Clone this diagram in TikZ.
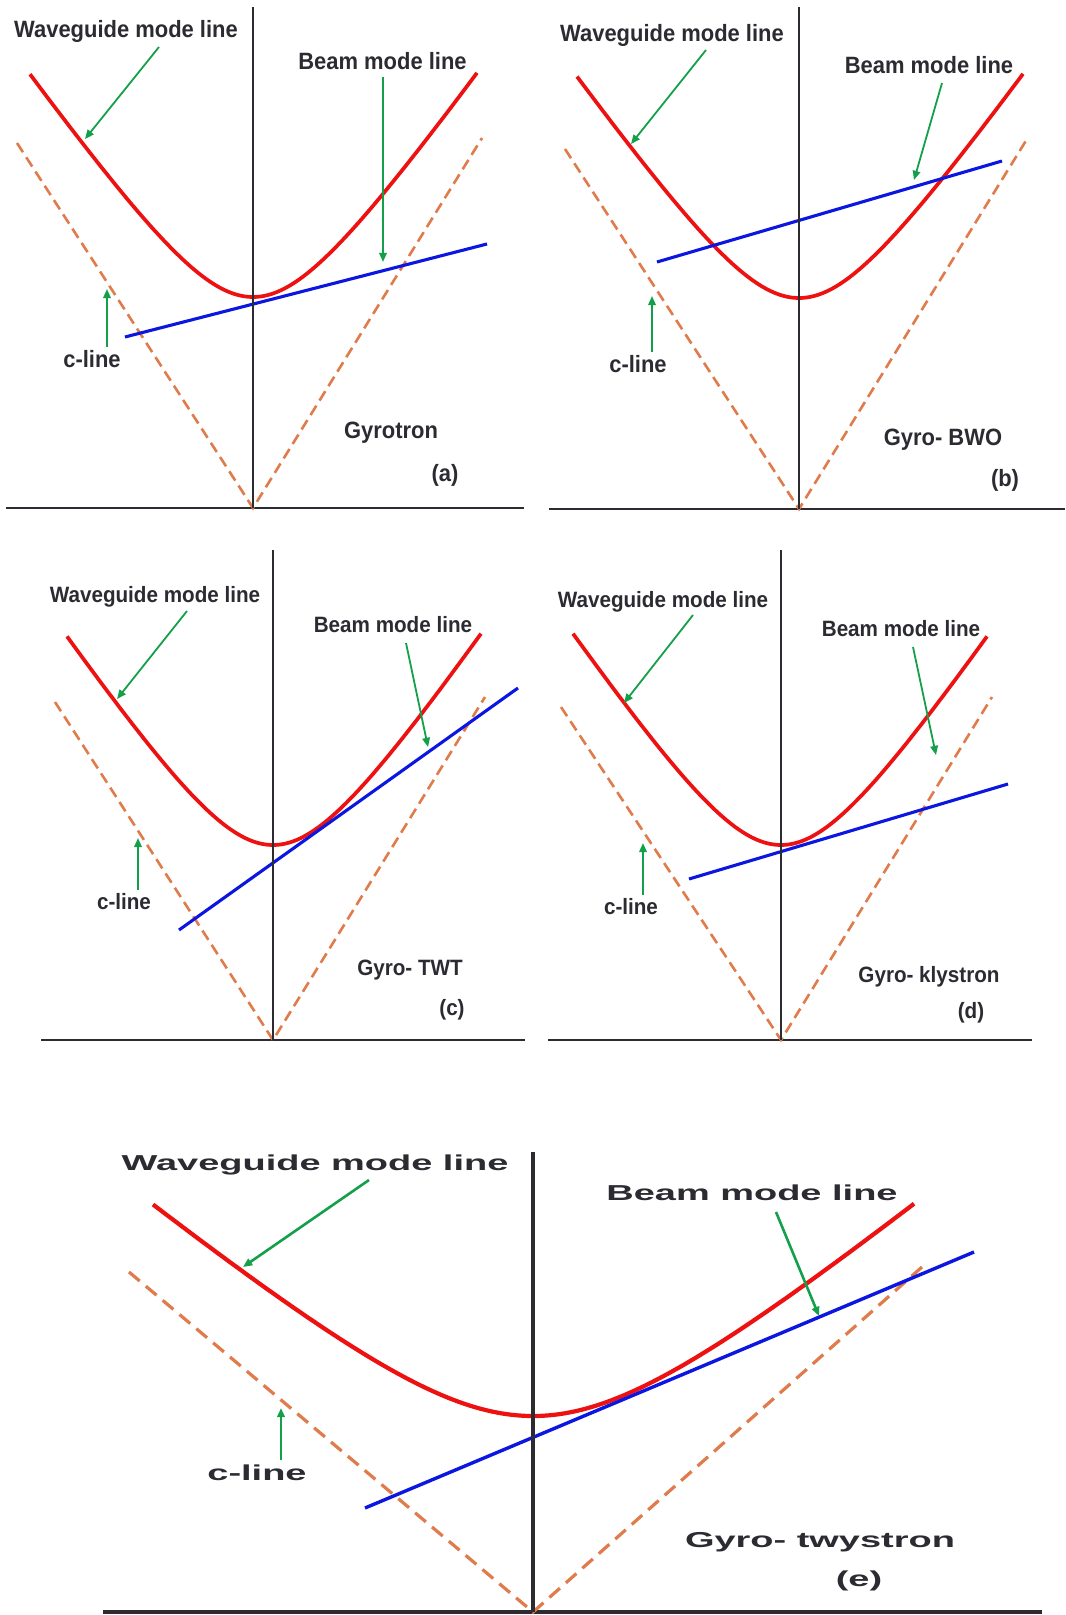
\documentclass[tikz,border=0pt]{standalone}
\usepackage{fontspec}
\setmainfont{Liberation Sans}
\usetikzlibrary{arrows.meta}
\definecolor{wgred}{HTML}{EE1111}
\definecolor{beamblue}{HTML}{0B16E0}
\definecolor{clight}{HTML}{E07B4C}
\definecolor{pgreen}{HTML}{14A04A}
\definecolor{ink}{HTML}{2B2B31}

\begin{document}
\begin{tikzpicture}[x=0.5pt, y=-0.5pt, >={Triangle[length=4.6pt,width=3.8pt]},
	axis/.style={draw=ink, line width=1.4pt},
	wg/.style={draw=wgred, line width=1.85pt},
	beam/.style={draw=beamblue, line width=1.55pt},
	cl/.style={draw=clight, line width=1.3pt, dash pattern=on 5.5pt off 3pt},
	ptr/.style={draw=pgreen, line width=0.9pt, ->},
	lbl/.style={text=ink, inner sep=0pt, xscale=0.93, font=\bfseries\fontsize{11.8}{14}\selectfont}]

	% ---- cornice (pixel dell'originale) ----
	\fill[white] (0,0) rectangle (1065,1615);
	\useasboundingbox (0,0) rectangle (1065,1615);

	% ---- pannello (a): gyrotron ----
	\begin{scope}[shift={(253,508)}, yscale=-1]
		\draw[axis] (-247,0) -- (271,0);
		\draw[cl] (-236,365) -- (0,0) -- (229,370);                 % c-line
		\draw[wg] plot[domain=-223:224, samples=90, smooth]
		(\x,{211+14.2*(veclen(\x/10,8)-8)});                        % modo guida
		\draw[beam] (-128,171) -- (234,264);                         % modo fascio
		\draw[axis] (0,0) -- (0,501);

		\node[lbl] (WGa) at (-127,477) {Waveguide mode line};
		\node[lbl] (BMa) at (129.5,447) {Beam mode line};
		\node[lbl] (CLa) at (-161,149) {c-line};
		\node[lbl] (Na) at (138,75) {Gyrotron};
		\node[lbl] (Ta) at (192,33) {(a)};

		\path (-94,461) coordinate (wa0) (-168,369) coordinate (wa1)
		(130,431) coordinate (ba0) (130,246) coordinate (ba1)
		(-146,161) coordinate (ca0) (-146,219) coordinate (ca1);
		\foreach \s/\t in {wa0/wa1, ba0/ba1, ca0/ca1}
		\draw[ptr] (\s) -- (\t);
	\end{scope}

	% ---- pannello (b): gyro-BWO ----
	\begin{scope}[shift={(799,509)}, yscale=-1]
		\draw[axis] (-250,0) -- (266,0);
		\draw[cl] (-234,360) -- (0,0) -- (228,370);
		\draw[wg] plot[domain=-222:224, samples=90, smooth]
		(\x,{211+14.2*(veclen(\x/10,8)-8)});
		\draw[beam] (-142,247) -- (203,348);
		\draw[axis] (0,0) -- (0,502);

		\node[lbl] (WGb) at (-127,474) {Waveguide mode line};
		\node[lbl] (BMb) at (130,444) {Beam mode line};
		\node[lbl] (CLb) at (-161,145) {c-line};
		\node[lbl] (Nb) at (144,69) {Gyro- BWO};
		\node[lbl] (Tb) at (206,29) {(b)};

		\path (-93,459) coordinate (wb0) (-168,365) coordinate (wb1)
		(143,426) coordinate (bb0) (115,329) coordinate (bb1)
		(-147,157) coordinate (cb0) (-147,213) coordinate (cb1);
		\foreach \s/\t in {wb0/wb1, bb0/bb1, cb0/cb1}
		\draw[ptr] (\s) -- (\t);
	\end{scope}

	% ---- pannello (c): gyro-TWT ----
	\begin{scope}[shift={(273,1040)}, yscale=-1,
		lbl/.append style={font=\bfseries\fontsize{11.1}{13}\selectfont}]
		\draw[axis] (-232,0) -- (252,0);
		\draw[cl] (-218,338) -- (0,0) -- (212,343);
		\draw[wg] plot[domain=-206:208, samples=90, smooth]
		(\x,{195+14.8*(veclen(\x/10,8)-8)});
		\draw[beam] (-94,110) -- (245,352);
		\draw[axis] (0,0) -- (0,490);

		\node[lbl] (WGc) at (-118,443) {Waveguide mode line};
		\node[lbl] (BMc) at (120,415) {Beam mode line};
		\node[lbl] (CLc) at (-149,138) {c-line};
		\node[lbl] (Nc) at (137,70) {Gyro- TWT};
		\node[lbl] (Tc) at (179,30) {(c)};

		\path (-86,429) coordinate (wc0) (-156,341) coordinate (wc1)
		(133,397) coordinate (bc0) (155,293) coordinate (bc1)
		(-135,150) coordinate (cc0) (-135,202) coordinate (cc1);
		\foreach \s/\t in {wc0/wc1, bc0/bc1, cc0/cc1}
		\draw[ptr] (\s) -- (\t);
	\end{scope}

	% ---- pannello (d): gyro-klystron ----
	\begin{scope}[shift={(781,1040)}, yscale=-1,
		lbl/.append style={font=\bfseries\fontsize{11.1}{13}\selectfont}]
		\draw[axis] (-233,0) -- (251,0);
		\draw[cl] (-220,333) -- (0,0) -- (211,343);
		\draw[wg] plot[domain=-208:206, samples=90, smooth]
		(\x,{195+14.8*(veclen(\x/10,8)-8)});
		\draw[beam] (-92,161) -- (227,256);
		\draw[axis] (0,0) -- (0,490);

		\node[lbl] (WGd) at (-118,438) {Waveguide mode line};
		\node[lbl] (BMd) at (120,411) {Beam mode line};
		\node[lbl] (CLd) at (-150,133) {c-line};
		\node[lbl] (Nd) at (148,63) {Gyro- klystron};
		\node[lbl] (Td) at (190,27) {(d)};

		\path (-88,425) coordinate (wd0) (-157,337) coordinate (wd1)
		(132,393) coordinate (bd0) (155,285) coordinate (bd1)
		(-138,145) coordinate (cd0) (-138,197) coordinate (cd1);
		\foreach \s/\t in {wd0/wd1, bd0/bd1, cd0/cd1}
		\draw[ptr] (\s) -- (\t);
	\end{scope}

	% ---- pannello (e): gyro-twystron (stirato in orizzontale) ----
	\begin{scope}[shift={(533,1612)}, yscale=-1,
		axis/.append style={line width=1.9pt},
		wg/.append style={line width=2.1pt},
		beam/.append style={line width=1.7pt},
		cl/.append style={line width=1.6pt, dash pattern=on 7pt off 4pt},
		ptr/.append style={line width=1.3pt},
		lbl/.append style={font=\bfseries\fontsize{10.8}{13}\selectfont, xscale=1.89}]
		\draw[axis] (-430,0) -- (509,0);
		\draw[cl] (-404,340) -- (0,0) -- (389,345);
		\draw[wg] plot[domain=-380:381, samples=120, smooth]
		(\x,{196+15.4*(veclen(\x/18.8,8)-8)});
		\draw[beam] (-168,104) -- (441,360);
		\draw[axis] (0,0) -- (0,460);

		\node[lbl] (WGe) at (-218,447) {Waveguide mode line};
		\node[lbl] (BMe) at (219,419) {Beam mode line};
		\node[lbl] (CLe) at (-276,139) {c-line};
		\node[lbl] (Ne) at (287,70) {Gyro- twystron};
		\node[lbl] (Te) at (326,31) {(e)};

		\path (-164,432) coordinate (we0) (-290,345) coordinate (we1)
		(243,400) coordinate (be0) (286,296) coordinate (be1)
		(-252,152) coordinate (ce0) (-252,204) coordinate (ce1);
		\foreach \s/\t in {we0/we1, be0/be1, ce0/ce1}
		\draw[ptr] (\s) -- (\t);
	\end{scope}

\end{tikzpicture}
\end{document}
